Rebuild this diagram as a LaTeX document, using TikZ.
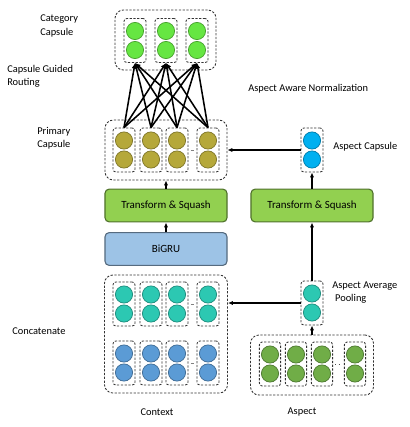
\documentclass[tikz,border=0pt]{standalone}
\usepackage{fontspec}
\setmainfont{Carlito}
\usetikzlibrary{arrows.meta}

\definecolor{catgreen}{RGB}{102,230,66}
\definecolor{priolive}{RGB}{181,168,58}
\definecolor{aspcyan}{RGB}{0,176,240}
\definecolor{ctxteal}{RGB}{44,200,178}
\definecolor{ctxblue}{RGB}{91,155,213}
\definecolor{aspgreen}{RGB}{112,173,71}
\definecolor{tsfill}{RGB}{146,208,80}
\definecolor{grufill}{RGB}{157,195,230}

\begin{document}
\begin{tikzpicture}[x=0.025cm,y=-0.025cm,
    cap/.style={circle,minimum size=0.43cm,inner sep=0pt,fill=#1,draw=#1!70!black,line width=0.5pt},
    colbox/.style={draw=black!80,dashed,dash pattern=on 1.6pt off 1.1pt,line width=0.6pt,rounded corners=2pt,
      minimum width=0.55cm,minimum height=1.1cm,inner sep=0pt},
    grpbox/.style={draw=black!80,dashed,dash pattern=on 1.6pt off 1.1pt,line width=0.6pt,rounded corners=6pt,inner sep=0pt},
    block/.style={draw=#1!55!black,fill=#1,line width=0.8pt,rounded corners=3pt,
      minimum width=3.05cm,minimum height=0.82cm,font=\fontsize{7.8}{9}\selectfont},
    lbl/.style={inner sep=0pt,align=left,font=\fontsize{7.4}{9.3}\selectfont},
    flow/.style={-{Latex[length=3.5pt,width=3pt]},line width=0.9pt},
    route/.style={-{Latex[length=4pt,width=3.5pt]},line width=1.1pt},
    gap/.style={gray,line width=0.4pt,shorten <=1.5pt,shorten >=1.5pt}]

  \useasboundingbox (0,0) rectangle (409,427);

  % Category capsules
  \node[grpbox,minimum width=2.525cm,minimum height=1.5cm] (catgrp) at (165.5,40) {};
  \foreach \i/\x in {1/135,2/166,3/197} {
    \node[colbox] (cat\i) at (\x,40.5) {};
    \node[cap=catgreen] (cat\i-1) at (\x,31) {};
    \node[cap=catgreen] (cat\i-2) at (\x,50) {};
  }

  % Primary capsules
  \node[grpbox,minimum width=3.05cm,minimum height=1.5cm] (prigrp) at (166,150) {};
  \foreach \i/\x in {1/124,2/151,3/177,4/208} {
    \node[colbox] (pri\i) at (\x,150) {};
    \node[cap=priolive] (pri\i-1) at (\x,140.5) {};
    \node[cap=priolive] (pri\i-2) at (\x,159.5) {};
  }
  \draw[gap] (pri3.east) -- (pri4.west);

  % Capsule guided routing
  \foreach \i in {1,2,3,4}
    \foreach \j in {1,2,3}
      \draw[route] (pri\i.north) -- (cat\j.south);

  % Left branch
  \node[block=tsfill] (tsleft) at (166,205.5) {Transform \& Squash};
  \node[block=grufill] (bigru) at (166,249) {BiGRU};

  % Context (concatenated)
  \node[grpbox,minimum width=3.075cm,minimum height=2.95cm] (ctxgrp) at (166,334) {};
  \foreach \i/\x in {1/124,2/151,3/177,4/208} {
    \node[colbox] (ctxa\i) at (\x,304) {};
    \node[cap=ctxteal] (ctxa\i-1) at (\x,294.5) {};
    \node[cap=ctxteal] (ctxa\i-2) at (\x,313.5) {};
    \node[colbox] (ctxb\i) at (\x,363) {};
    \node[cap=ctxblue] (ctxb\i-1) at (\x,353.5) {};
    \node[cap=ctxblue] (ctxb\i-2) at (\x,372.5) {};
  }
  \draw[gap] (ctxa3.east) -- (ctxa4.west);
  \draw[gap] (ctxb3.east) -- (ctxb4.west);

  % Right branch
  \node[colbox] (aspcap) at (312,150) {};
  \node[cap=aspcyan] (aspcap-1) at (312,140.5) {};
  \node[cap=aspcyan] (aspcap-2) at (312,159.5) {};
  \node[block=tsfill] (tsright) at (312,205.5) {Transform \& Squash};
  \node[colbox] (pool) at (312,303) {};
  \node[cap=ctxteal] (pool-1) at (312,293.5) {};
  \node[cap=ctxteal] (pool-2) at (312,312.5) {};

  % Aspect words
  \node[grpbox,minimum width=3.075cm,minimum height=1.5cm] (aspgrp) at (312,365) {};
  \foreach \i/\x in {1/270,2/296,3/322,4/355} {
    \node[colbox,minimum width=0.53cm] (asp\i) at (\x,364) {};
    \node[cap=aspgreen] (asp\i-1) at (\x,354.5) {};
    \node[cap=aspgreen] (asp\i-2) at (\x,373.5) {};
  }
  \draw[gap,dotted,black!70] (asp3.east) -- (asp4.west);

  % Arrows
  \draw[flow] (bigru.north) -- (tsleft.south);
  \draw[flow] (tsleft.north) -- (prigrp.south);
  \draw[flow] (aspcap.west) -- (prigrp.east);
  \draw[flow] (tsright.north) -- (aspcap.south);
  \draw[flow] (pool.north) -- (tsright.south);
  \draw[flow] (pool.west) -- (pool.west -| ctxgrp.east);
  \draw[flow] (aspgrp.north) -- (pool.south);

  % Labels
  \node[lbl,anchor=west] (lcat) at (40,26) {Category\\Capsule};
  \node[lbl,anchor=west] (lroute) at (7,76.5) {Capsule Guided\\Routing};
  \node[lbl,anchor=west] (lnorm) at (248,89) {Aspect Aware Normalization};
  \node[lbl,anchor=west] (lpri) at (37,138.5) {Primary\\Capsule};
  \node[lbl,anchor=west] (laspcap) at (333,147) {Aspect Capsule};
  \node[lbl,anchor=west] (lpool) at (332,293) {Aspect Average\\\hspace*{2pt}Pooling};
  \node[lbl,anchor=west] (lconcat) at (12,331) {Concatenate};
  \node[lbl] (lctx) at (157,412) {Context};
  \node[lbl] (lasp) at (302,412) {Aspect};
\end{tikzpicture}
\end{document}
